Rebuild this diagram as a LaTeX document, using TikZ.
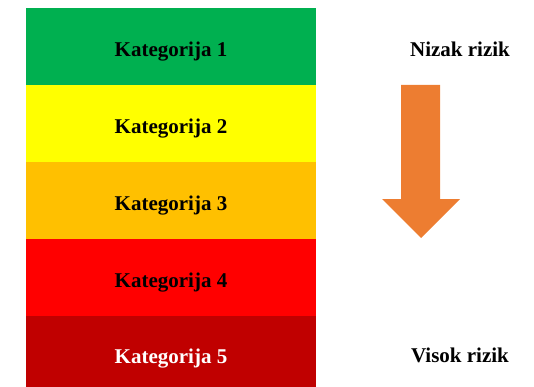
\documentclass[tikz,border=0pt]{standalone}
\usepackage{fontspec}
\setmainfont{Liberation Serif}
\usetikzlibrary{positioning}
\definecolor{kat1}{HTML}{00B050}
\definecolor{kat2}{HTML}{FFFF00}
\definecolor{kat3}{HTML}{FFC000}
\definecolor{kat4}{HTML}{FF0000}
\definecolor{kat5}{HTML}{C00000}
\definecolor{strelica}{HTML}{ED7D31}
\begin{document}
\begin{tikzpicture} [x=1pt, y=-1pt,
		kat/.style={minimum width=290pt, minimum height=76.8pt, inner sep=0pt, text height=20pt, text depth=0pt, font=\fontsize{21}{24}\selectfont\bfseries},
		rizik/.style={inner sep=0pt, text height=20pt, text depth=0pt, font=\fontsize{21}{24}\selectfont\bfseries}]
				\useasboundingbox (0,0) rectangle (534,387);
				%\draw[help lines] (0,0) grid[step=20] (534,387);
				\begin{scope}
				\clip (0,0) rectangle (534,387);
				\node[kat, fill=kat1] (k1) at (171,46.7) {Kategorija 1};
				\node[kat, fill=kat2] (k2) at (171,123.5) {Kategorija 2};
				\node[kat, fill=kat3] (k3) at (171,200.3) {Kategorija 3};
				\node[kat, fill=kat4] (k4) at (171,277.1) {Kategorija 4};
				\node[kat, fill=kat5, text=white] (k5) at (171,353.9) {Kategorija 5};
				\end{scope}
				\node[rizik] (nizak) at (460,46.7) {Nizak rizik};
				\node[rizik] (visok) at (460,352) {Visok rizik};
				% strelica
				\fill[strelica] (401,85) -- (440,85) -- (440,199) -- (460,199) -- (421,238) -- (382,199) -- (401,199) -- cycle;
			\end{tikzpicture}
\end{document}
